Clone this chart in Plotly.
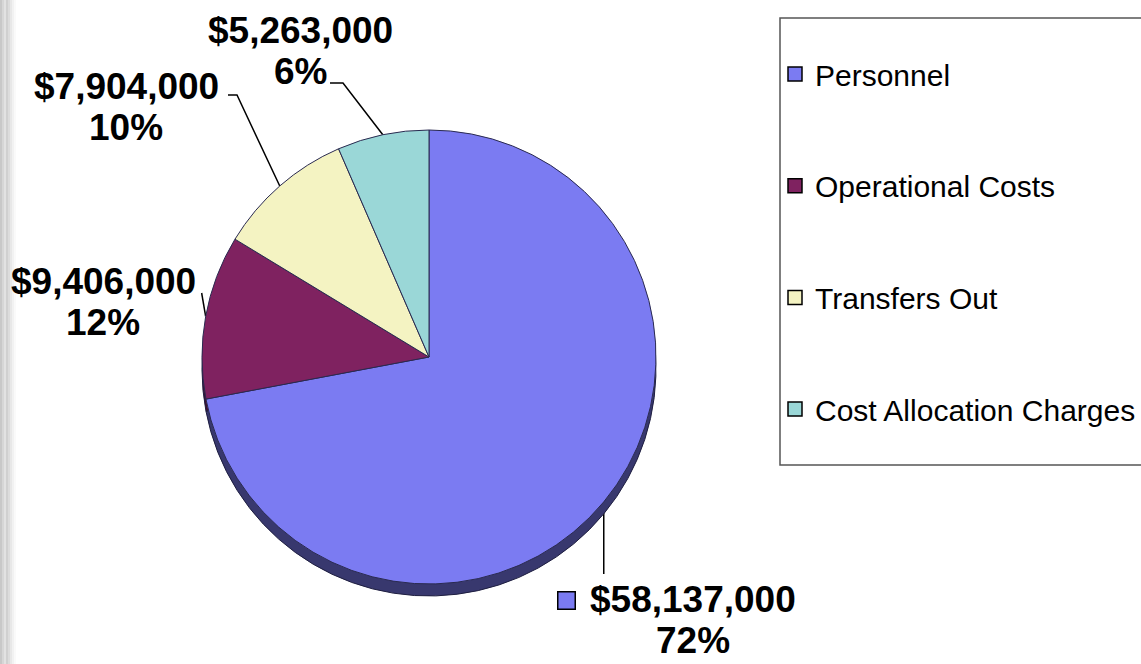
import math
import plotly.graph_objects as go

categories = ["Personnel", "Operational Costs", "Transfers Out", "Cost Allocation Charges"]
amounts = [58137000, 9406000, 7904000, 5263000]
pct_labels = ["72%", "12%", "10%", "6%"]
colors = ["#7B7BF2", "#7F2260", "#F4F3C2", "#9AD7D7"]

W, H = 1141, 664
CX, CY, R = 429, 357, 227
DEPTH = 12

def dom(cx, cy, r):
    return dict(x=[(cx - r) / W, (cx + r) / W], y=[(H - cy - r) / H, (H - cy + r) / H])

fig = go.Figure()

# dark rim under the pie to fake the 3d depth
fig.add_trace(go.Pie(values=amounts, sort=False, direction="clockwise", rotation=0,
                     marker=dict(colors=["#38386E", "#3E1030", "#77765E", "#4A6A6A"],
                                 line=dict(color="#1E1E40", width=1)),
                     textinfo="none", hoverinfo="skip", showlegend=False,
                     domain=dom(CX, CY + DEPTH, R)))
fig.add_trace(go.Pie(labels=categories, values=amounts, sort=False, direction="clockwise", rotation=0,
                     marker=dict(colors=colors, line=dict(color="#2A2A50", width=1)),
                     textinfo="none", showlegend=False, domain=dom(CX, CY, R)))

# edge points from slice mid angles
total = sum(amounts)
edges = []
cum = 0
for a in amounts:
    mid = (cum + a / 2) / total * 2 * math.pi
    edges.append((CX + R * math.sin(mid), CY - R * math.cos(mid)))
    cum += a

# leader lines: edge -> elbow -> end
leaders = [
    [edges[0], (edges[0][0], 574)],
    [edges[1], (edges[1][0] - 4, 293)],
    [edges[2], (237, 95), (228, 95)],
    [edges[3], (343, 83), (330, 83)],
]
for pts in leaders:
    fig.add_trace(go.Scatter(x=[p[0] for p in pts], y=[p[1] for p in pts], mode="lines",
                             line=dict(color="black", width=1.5), showlegend=False, hoverinfo="skip"))

# legend entries
for c, col in zip(categories, colors):
    fig.add_trace(go.Scatter(x=[None], y=[None], mode="markers", name=c, legendgroup=c,
                             marker=dict(symbol="square", size=14, color=col,
                                         line=dict(color="black", width=1.5))))

# data labels, one annotation per line so the line gap can be tight
label_pos = [(693, 599), (103, 281), (126, 86), (300, 30)]
lab_font = dict(family="Liberation Sans", size=37, color="black")
for (x, y), a, p in zip(label_pos, amounts, pct_labels):
    fig.add_annotation(x=x, y=y, xref="x", yref="y", text=f"<b>${a:,}</b>", showarrow=False, font=lab_font)
    fig.add_annotation(x=x, y=y + 41, xref="x", yref="y", text=f"<b>{p}</b>", showarrow=False, font=lab_font)
fig.add_annotation(x=566, y=600, xref="x", yref="y", text=" ", showarrow=False,
                   width=14, height=14, bgcolor=colors[0], bordercolor="black", borderwidth=1.5)

shapes = [dict(type="rect", xref="paper", yref="paper", x0=780 / W, x1=1.02, y0=(H - 465) / H,
               y1=(H - 18) / H, line=dict(color="#555555", width=1.5), fillcolor="rgba(0,0,0,0)")]
# grey strip at the left edge
strip = ["#C8C8C8", "#D6D6D6", "#E2E2E2", "#D0D0D0", "#DCDCDC", "#E8E8E8", "#F2F2F2", "#FAFAFA"]
for i, c in enumerate(strip):
    shapes.append(dict(type="rect", xref="x", yref="paper", x0=i * 2, x1=i * 2 + 2, y0=0, y1=1,
                       fillcolor=c, line=dict(width=0), layer="below"))

fig.update_layout(
    width=W, height=H, margin=dict(l=0, r=0, t=0, b=0, autoexpand=False),
    paper_bgcolor="white", plot_bgcolor="rgba(0,0,0,0)",
    xaxis=dict(range=[0, W], visible=False, domain=[0, 1]),
    yaxis=dict(range=[H, 0], visible=False, domain=[0, 1]),
    showlegend=True,
    legend=dict(x=775 / W, y=(H - 48) / H, xanchor="left", yanchor="top",
                font=dict(family="Liberation Sans", size=30, color="black"),
                tracegroupgap=69.7, itemclick=False, bgcolor="rgba(0,0,0,0)"),
    shapes=shapes,
)

fig.write_html("out.html", config={"displayModeBar": False},
               post_script="document.body.style.margin='0px';")
